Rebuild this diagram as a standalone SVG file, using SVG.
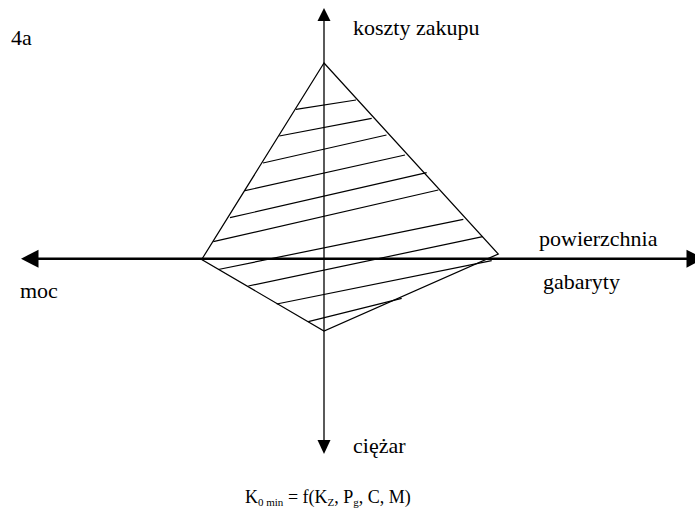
<svg xmlns="http://www.w3.org/2000/svg" width="695" height="529" viewBox="0 0 695 529">
<style>
  text { font-family: "Liberation Serif", "Times New Roman", serif; font-size: 22px; fill: #000; }
  .formula { font-size: 18px; }
  .sub { font-size: 11px; }
  .edge { stroke: #000; stroke-width: 1.2; fill: none; }
  .hatch { stroke: #000; stroke-width: 1.2; fill: none; }
  .axis { stroke: #000; fill: none; }
</style>
<rect width="695" height="529" fill="#fff"/>
<g id="connectors">
  <g id="axis-vertical">
    <line class="axis" x1="324" y1="20" x2="324" y2="441" stroke-width="1.3"/>
    <polygon points="324,8 317.5,21 330.5,21" fill="#000"/>
    <polygon points="324,454 317.5,440 330.5,440" fill="#000"/>
  </g>
  <g id="axis-horizontal">
    <line class="axis" x1="37" y1="258.7" x2="690" y2="258.7" stroke-width="2.6"/>
    <polygon points="21,258.7 38.5,249.7 38.5,267.7" fill="#000"/>
    <polygon points="704,258.7 686.5,249.7 686.5,267.7" fill="#000"/>
  </g>
</g>
<g id="diamond">
  <polygon class="edge" points="324,63 498.3,254 324,331 201.7,259.5"/>
  <g id="hatching">
    <line class="hatch" x1="296" y1="109.3" x2="356" y2="100"/>
    <line class="hatch" x1="279.3" y1="136" x2="371.7" y2="118.3"/>
    <line class="hatch" x1="263" y1="163" x2="386.5" y2="135"/>
    <line class="hatch" x1="245" y1="190.7" x2="405" y2="155"/>
    <line class="hatch" x1="230" y1="217.7" x2="426.7" y2="172.7"/>
    <line class="hatch" x1="213.3" y1="241.7" x2="438.3" y2="190"/>
    <line class="hatch" x1="218.3" y1="269.5" x2="463.3" y2="219.3"/>
    <line class="hatch" x1="248.3" y1="286" x2="482.7" y2="236.7"/>
    <line class="hatch" x1="276.7" y1="304" x2="491.7" y2="260.7"/>
    <line class="hatch" x1="308.3" y1="321.7" x2="401.7" y2="298.3"/>
  </g>
</g>
<g id="labels">
  <text id="label-4a" x="11" y="45">4a</text>
  <text id="label-koszty" x="353" y="35">koszty zakupu</text>
  <text id="label-powierzchnia" x="539" y="246">powierzchnia</text>
  <text id="label-gabaryty" x="543" y="289">gabaryty</text>
  <text id="label-moc" x="20" y="298">moc</text>
  <text id="label-ciezar" x="353" y="453">ciężar</text>
  <text id="formula" class="formula" x="245" y="503">K<tspan class="sub" dy="3">0 min</tspan><tspan dy="-3"> = f(K</tspan><tspan class="sub" dy="3">Z</tspan><tspan dy="-3">, P</tspan><tspan class="sub" dy="3">g</tspan><tspan dy="-3">, C, M)</tspan></text>
</g>
</svg>
